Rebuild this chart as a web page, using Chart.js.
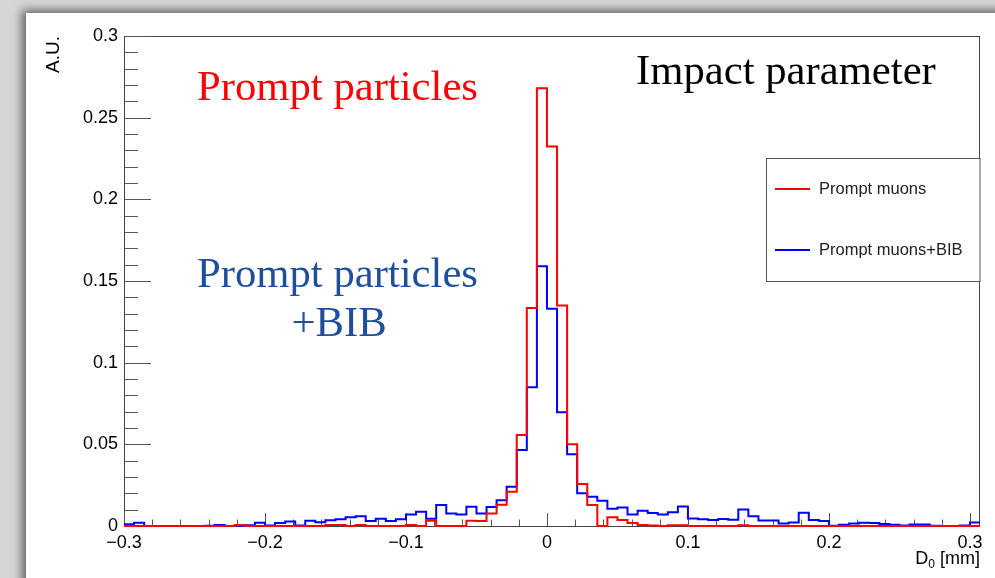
<!DOCTYPE html>
<html>
<head>
<meta charset="utf-8">
<script src="https://cdn.jsdelivr.net/npm/chart.js"></script>
<style>
  html, body { margin: 0; padding: 0; width: 995px; height: 578px; overflow: hidden; background: #d6d6d6; }
  #sheet { position: absolute; left: 26px; top: 13px; width: 1100px; height: 700px; background: #fff;
           box-shadow: -4px -3px 9px rgba(0,0,0,0.55); }
  #plot { position: absolute; left: 0; top: 0; }
</style>
</head>
<body>
<div id="sheet"></div>
<canvas id="plot" width="995" height="578"></canvas>
<script>
// histogram binning (D0 in mm)
const binLow = -0.3;
const binWidth = 0.3 / 42;
const nBins = 85;

// bin contents, one per bin, left to right
const promptMuons = [
  0, 0, 0, 0, 0, 0, 0, 0, 0, 0,
  0, 0.0006, 0, 0, 0, 0, 0, 0, 0, 0,
  0.0006, 0.0006, 0, 0.0006, 0, 0, 0, 0, 0.0006, 0,
  0.0032, 0, 0, 0, 0.0032, 0.003, 0.0077, 0.013, 0.021, 0.0557,
  0.1335, 0.268, 0.2323, 0.135, 0.050, 0.0257, 0.0129, 0, 0.0054, 0.0036,
  0.0018, 0.0006, 0.0003, 0, 0.0005, 0.0005, 0, 0, 0, 0,
  0, 0.0005, 0, 0, 0, 0, 0, 0, 0, 0,
  0, 0, 0, 0, 0, 0, 0, 0, 0, 0,
  0, 0, 0, 0, 0
];
const promptMuonsBib = [
  0.001, 0.002, 0, 0, 0, 0, 0, 0, 0.0002, 0.0006,
  0, 0.0002, 0.0004, 0.002, 0.0003, 0.0018, 0.0028, 0.0003, 0.0032, 0.0023,
  0.0035, 0.0042, 0.0053, 0.006, 0.003, 0.0045, 0.003, 0.0042, 0.007, 0.0088,
  0.0045, 0.0129, 0.0076, 0.0071, 0.0118, 0.0077, 0.0117, 0.0158, 0.024, 0.0465,
  0.085, 0.159, 0.133, 0.0696, 0.044, 0.0201, 0.0179, 0.0154, 0.0105, 0.0113,
  0.0071, 0.0093, 0.0079, 0.007, 0.0084, 0.0119, 0.0046, 0.0041, 0.0036, 0.0043,
  0.0038, 0.0101, 0.0059, 0.0034, 0.0034, 0.0015, 0.0021, 0.0081, 0.0037, 0.0031,
  0.0002, 0.0007, 0.0016, 0.002, 0.0019, 0.0013, 0.0007, 0.0003, 0.0009, 0.0009,
  0.0001, 0, 0, 0.0003, 0.0022
];

const xTickValues = [-0.3, -0.2, -0.1, 0, 0.1, 0.2, 0.3];
const xTickLabels = ['\u22120.3', '\u22120.2', '\u22120.1', '0', '0.1', '0.2', '0.3'];
const yTickValues = [0, 0.05, 0.1, 0.15, 0.2, 0.25, 0.3];
const yTickLabels = ['0', '0.05', '0.1', '0.15', '0.2', '0.25', '0.3'];

const seriesLabels = ['Prompt muons', 'Prompt muons+BIB'];
const seriesColors = ['#ff0000', '#0000ff'];

const SANS = '"Liberation Sans", Arial, Helvetica, sans-serif';
const SERIF = '"Liberation Serif", "Times New Roman", serif';

// left edge of each bin carries its content, plus closing point at the last edge
function toSteps(values) {
  const pts = values.map((v, i) => ({ x: binLow + i * binWidth, y: v }));
  pts.push({ x: binLow + nBins * binWidth, y: values[values.length - 1] });
  return pts;
}

// ROOT look: frame, inward ticks, labels, legend box
const rootFrame = {
  id: 'rootFrame',
  beforeDatasetsDraw(chart) {
    const { ctx, chartArea: a, scales: { x, y } } = chart;
    ctx.save();
    ctx.strokeStyle = '#444';
    ctx.lineWidth = 1;
    ctx.strokeRect(Math.round(a.left) + 0.5, Math.round(a.top) + 0.5,
                   Math.round(a.right - a.left) - 1, Math.round(a.bottom - a.top));
    ctx.strokeStyle = '#555';
    ctx.beginPath();
    for (let i = 0; i <= 30; i++) {
      const py = Math.round(y.getPixelForValue(i * 0.01)) + 0.5;
      const len = i % 5 === 0 ? 27 : 14;
      ctx.moveTo(a.left, py); ctx.lineTo(a.left + len, py);
    }
    for (let i = 0; i <= 30; i++) {
      const px = Math.round(x.getPixelForValue(-0.3 + i * 0.02)) + 0.5;
      const len = i % 5 === 0 ? 13 : 6.5;
      ctx.moveTo(px, a.bottom); ctx.lineTo(px, a.bottom - len);
    }
    ctx.stroke();
    ctx.restore();
  },
  afterDraw(chart) {
    const { ctx, chartArea: a } = chart;
    ctx.save();

    // axis titles
    ctx.fillStyle = '#000';
    ctx.font = '19px ' + SANS;
    ctx.save();
    ctx.translate(59, a.top);
    ctx.rotate(-Math.PI / 2);
    ctx.textAlign = 'right';
    ctx.textBaseline = 'alphabetic';
    ctx.fillText('A.U.', 0, 0);
    ctx.restore();

    const tail = ' [mm]';
    ctx.font = '18px ' + SANS;
    const wTail = ctx.measureText(tail).width;
    const wD = ctx.measureText('D').width;
    ctx.font = '12px ' + SANS;
    const wSub = ctx.measureText('0').width;
    let tx = a.right - wTail - wSub - wD;
    const base = 564;
    ctx.textAlign = 'left';
    ctx.textBaseline = 'alphabetic';
    ctx.font = '18px ' + SANS;
    ctx.fillText('D', tx, base);
    ctx.font = '12px ' + SANS;
    ctx.fillText('0', tx + wD, base + 4);
    ctx.font = '18px ' + SANS;
    ctx.fillText(tail, tx + wD + wSub, base);

    // annotations
    ctx.font = '42.7px ' + SERIF;
    ctx.fillStyle = '#ff0000';
    ctx.fillText('Prompt particles', 197, 100);
    ctx.fillStyle = '#1f4f9c';
    ctx.fillText('Prompt particles', 197, 287);
    ctx.textAlign = 'center';
    ctx.fillText('+BIB', 339, 336);
    ctx.textAlign = 'left';
    ctx.fillStyle = '#000';
    ctx.fillText('Impact parameter', 636, 84);

    // legend
    const lx = 766.5, ly = 158.5, lw = a.right - 766.5, lh = 123;
    ctx.fillStyle = '#fff';
    ctx.fillRect(lx, ly, lw, lh);
    ctx.strokeStyle = '#555';
    ctx.lineWidth = 1;
    ctx.strokeRect(lx, ly, lw, lh);
    const rows = [189, 250];
    chart.data.datasets.forEach((ds, i) => {
      ctx.strokeStyle = ds.borderColor;
      ctx.lineWidth = 2;
      ctx.beginPath();
      ctx.moveTo(775, rows[i]); ctx.lineTo(810, rows[i]);
      ctx.stroke();
      ctx.fillStyle = '#222';
      ctx.font = '16.5px ' + SANS;
      ctx.textBaseline = 'middle';
      ctx.fillText(ds.label, 819, rows[i]);
    });
    ctx.restore();
  }
};

const tickFont = { family: SANS, size: 18 };

new Chart(document.getElementById('plot'), {
  type: 'line',
  data: {
    datasets: [
      { label: seriesLabels[0], data: toSteps(promptMuons), borderColor: seriesColors[0],
        borderWidth: 2, stepped: 'before', pointRadius: 0, fill: false, clip: 5 },
      { label: seriesLabels[1], data: toSteps(promptMuonsBib), borderColor: seriesColors[1],
        borderWidth: 2, stepped: 'before', pointRadius: 0, fill: false, clip: 5 }
    ]
  },
  options: {
    responsive: false,
    animation: false,
    layout: { padding: { left: 0, top: 36, right: 15, bottom: 0 } },
    plugins: { legend: { display: false }, tooltip: { enabled: false } },
    scales: {
      x: {
        type: 'linear',
        min: binLow,
        max: binLow + nBins * binWidth,
        grid: { display: false, drawTicks: false },
        border: { display: false },
        afterBuildTicks: s => { s.ticks = xTickValues.map(v => ({ value: v })); },
        afterFit: s => { s.height = 52; },
        ticks: { callback: (v, i) => xTickLabels[i], font: tickFont, color: '#000',
                 padding: 6, maxRotation: 0, autoSkip: false }
      },
      y: {
        min: 0,
        max: 0.3,
        grid: { display: false, drawTicks: false },
        border: { display: false },
        afterBuildTicks: s => { s.ticks = yTickValues.map(v => ({ value: v })); },
        afterFit: s => { s.width = 124; },
        ticks: { callback: (v, i) => yTickLabels[i], font: tickFont, color: '#000',
                 padding: 6, autoSkip: false }
      }
    }
  },
  plugins: [rootFrame]
});
</script>
</body>
</html>
